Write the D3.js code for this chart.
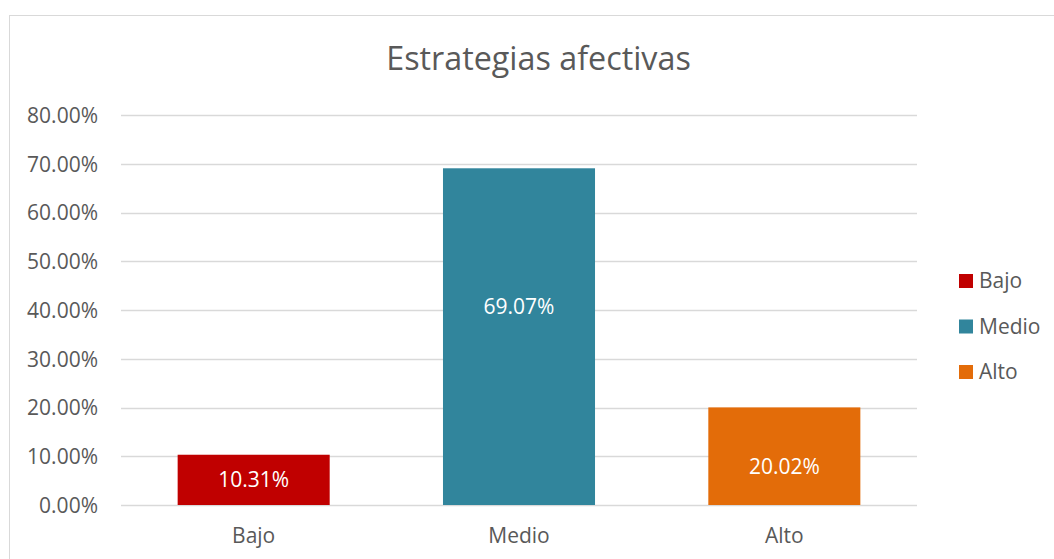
<!DOCTYPE html>
<html><head><meta charset="utf-8">
<script src="https://cdn.jsdelivr.net/npm/d3@7"></script>
<style>html,body{margin:0;padding:0;background:#fff;}svg{display:block;}</style>
</head><body>
<svg id="c" width="1054" height="559"></svg>
<script>
const categories = ["Bajo", "Medio", "Alto"];
const values = [10.31, 69.07, 20.02];
const labelAnchors = [5.15, 40.6, 7.8];
const colors = ["#C00000", "#31859C", "#E36C09"];
const yTicks = [0, 10, 20, 30, 40, 50, 60, 70, 80];
const title = "Estrategias afectivas";

const svg = d3.select("#c");
const font = "'Open Sans', sans-serif";
const textCol = "#595959";

svg.append("rect").attr("x", 9.5).attr("y", 15.5).attr("width", 1100).attr("height", 600)
  .attr("fill", "#fff").attr("stroke", "#d9d9d9").attr("stroke-width", 1);

const x = d3.scaleBand().domain(categories).range([121, 917]).paddingInner(0.427).paddingOuter(0.2135);
const y = d3.scaleLinear().domain([0, 80]).range([505, 115]);

// gridlines
svg.append("g").selectAll("line").data(yTicks).join("line")
  .attr("x1", 121).attr("x2", 917)
  .attr("y1", d => Math.round(y(d)) + 0.5).attr("y2", d => Math.round(y(d)) + 0.5)
  .attr("stroke", "#d9d9d9").attr("stroke-width", 1.3);

// y labels
const yAxis = d3.axisLeft(y).tickValues(yTicks).tickSize(0).tickPadding(0)
  .tickFormat(d => d.toFixed(2) + "%");
const ga = svg.append("g").attr("transform", "translate(98,0)").call(yAxis);
ga.select(".domain").remove();
ga.selectAll("text").attr("font-family", font).attr("font-size", 21).attr("fill", textCol).attr("dy", "0.35em");

// bars
svg.append("g").selectAll("rect").data(values).join("rect")
  .attr("x", (d, i) => x(categories[i]))
  .attr("width", x.bandwidth())
  .attr("y", d => y(d))
  .attr("height", d => y(0) - y(d))
  .attr("fill", (d, i) => colors[i]);

// value labels
svg.append("g").selectAll("text").data(values).join("text")
  .attr("x", (d, i) => x(categories[i]) + x.bandwidth() / 2)
  .attr("y", (d, i) => y(labelAnchors[i]))
  .attr("dy", "0.35em")
  .attr("text-anchor", "middle").attr("font-family", font).attr("font-size", 21).attr("fill", "#fff")
  .text(d => d.toFixed(2) + "%");

// x labels
const xAxis = d3.axisBottom(x).tickSize(0).tickPadding(0);
const gx = svg.append("g").attr("transform", "translate(0,505)").call(xAxis);
gx.select(".domain").remove();
gx.selectAll("text").attr("font-family", font).attr("font-size", 21).attr("fill", textCol)
  .attr("y", 38).attr("dy", 0);

// title
svg.append("text").attr("x", 538.5).attr("y", 70).attr("text-anchor", "middle")
  .attr("font-family", font).attr("font-size", 32.3).attr("fill", textCol).text(title);

// legend
const leg = svg.append("g").selectAll("g").data(categories).join("g")
  .attr("transform", (d, i) => `translate(959,${274 + i * 45.5})`);
leg.append("rect").attr("width", 14).attr("height", 14).attr("fill", (d, i) => colors[i]);
leg.append("text").attr("x", 20).attr("y", 14).attr("font-family", font).attr("font-size", 21)
  .attr("fill", textCol).text(d => d);
</script>
</body></html>
